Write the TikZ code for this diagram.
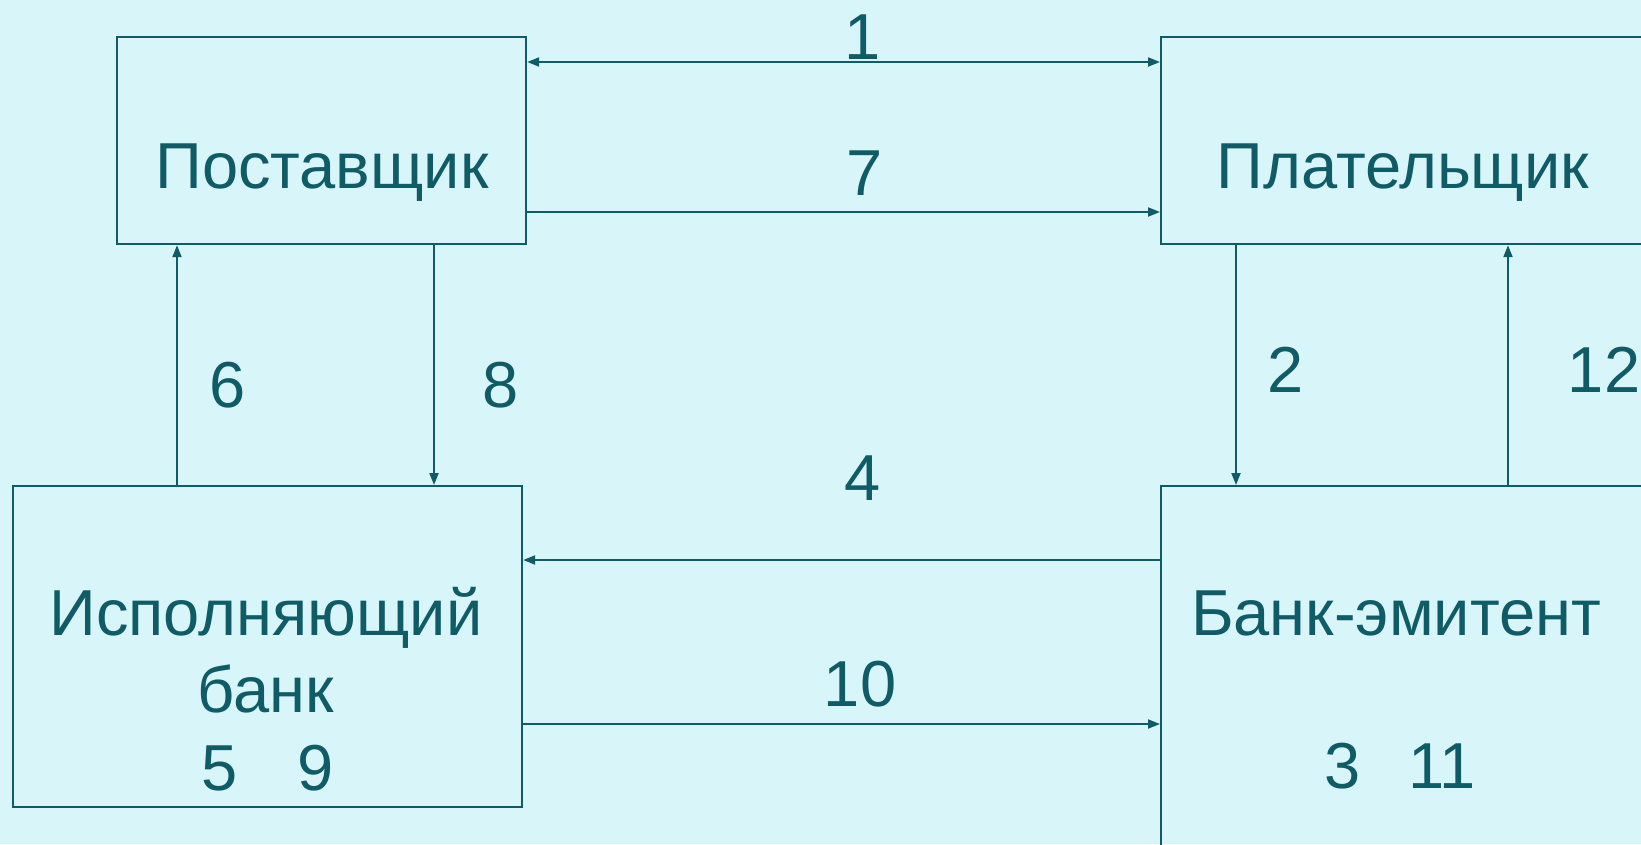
\documentclass[tikz,border=0pt]{standalone}
\usepackage{fontspec}
\setmainfont{Liberation Sans}
\usepackage{xcolor}
\usepackage{tikz}
\usetikzlibrary{arrows.meta}

\definecolor{ink}{HTML}{0F5B66}
\definecolor{paper}{HTML}{D8F6FA}

\tikzset{
  box/.style={draw=ink, line width=2.2pt, rectangle, anchor=north west, inner sep=0pt},
  link/.style={draw=ink, line width=2pt},
  txt/.style={text=ink, anchor=base, inner sep=0pt, font=\fontsize{65pt}{78pt}\selectfont},
}

\begin{document}
\begin{tikzpicture}[x=1pt, y=-1pt, >={Triangle[length=12pt,width=9pt]}]
        \useasboundingbox (0,0) rectangle (1641,844);
        \fill[paper] (0,0) rectangle (1641,844);
        \clip (0,0) rectangle (1641,844);

        \node[box, minimum width=409pt, minimum height=207pt] (post) at (116,36) {};
        \node[box, minimum width=600pt, minimum height=207pt] (payer) at (1160,36) {};
        \node[box, minimum width=509pt, minimum height=321pt] (execbank) at (12,485) {};
        \node[box, minimum width=600pt, minimum height=500pt] (issuer) at (1160,485) {};

        \node[txt] (posttext) at (322,188) {Поставщик};
        \node[txt] (payertext) at (1403,188) {Плательщик};
        \node[txt] (exectext) at (266,635) {Исполняющий};
        \node[txt] (exectext2) at (266,712) {банк};
        \node[txt] (execnums) at (268,790) {5\hspace{60pt}9};
        \node[txt] (issuertext) at (1396,635) {Банк-эмитент};
        \node[txt] (issuernums) at (1400,788) {3\hspace{48pt}11};

        \coordinate (row1) at (0,62);
        \coordinate (row7) at (0,212);
        \coordinate (row4) at (0,560);
        \coordinate (row10) at (0,724);
        \coordinate (col6) at (177,0);
        \coordinate (col8) at (434,0);
        \coordinate (col2) at (1236,0);
        \coordinate (col12) at (1508,0);

        \draw[link, <->] (post.east |- row1) -- (payer.west |- row1);
        \draw[link, ->] (post.east |- row7) -- (payer.west |- row7);
        \draw[link, ->] (execbank.north -| col6) -- (post.south -| col6);
        \draw[link, ->] (post.south -| col8) -- (execbank.north -| col8);
        \draw[link, ->] (payer.south -| col2) -- (issuer.north -| col2);
        \draw[link, ->] (issuer.north -| col12) -- (payer.south -| col12);
        \draw[link, ->] (issuer.west |- row4) -- (execbank.east |- row4);
        \draw[link, ->] (execbank.east |- row10) -- (issuer.west |- row10);

        \node[txt] (lbl1) at (863,59) {1};
        \node[txt] (lbl7) at (865,195) {7};
        \node[txt] (lbl6) at (228,407) {6};
        \node[txt] (lbl8) at (501,407) {8};
        \node[txt] (lbl2) at (1286,392) {2};
        \node[txt] (lbl12) at (1604,392) {12};
        \node[txt] (lbl4) at (863,500) {4};
        \node[txt] (lbl10) at (860,706) {10};
\end{tikzpicture}
\end{document}
